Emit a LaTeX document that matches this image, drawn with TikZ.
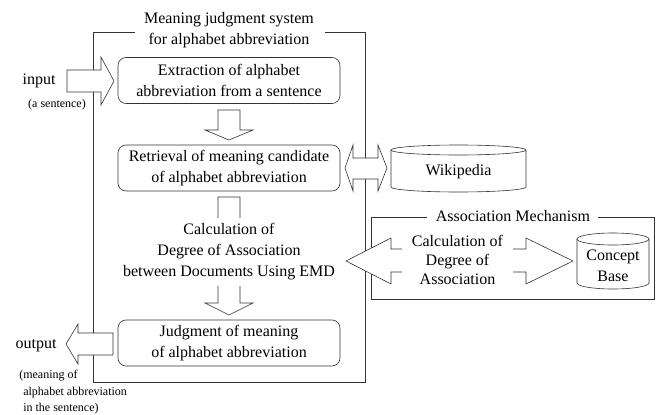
\documentclass[tikz,border=0pt]{standalone}
\usepackage{fontspec}
\setmainfont{Liberation Serif}
\begin{document}
\begin{tikzpicture}[x=1pt,y=-1pt,
  every node/.style={font=\fontsize{16}{21}\selectfont, align=center, text=black},
  every path/.style={line width=0.6pt},
  ln/.style={draw=black!80},
  proc/.style={draw=black!80, rounded corners=8pt, minimum width=222pt, minimum height=46pt, inner sep=0pt},
  blk/.style={draw=black!80, fill=white, line join=miter},
  small/.style={font=\fontsize{12}{16.5}\selectfont},
  cover/.style={fill=white, inner xsep=0pt}
]
\useasboundingbox (0,0) rectangle (659,415);
% main frame
\draw[ln] (135,32) -- (93,32) -- (93,382) -- (365,382) -- (365,32) -- (325,32);
\node (title) at (229,30.5) {Meaning judgment system\\for alphabet abbreviation};
% association frame
\draw[ln] (427,217) -- (371,217) -- (371,299) -- (654,299) -- (654,217) -- (598,217);
\node (atitle) at (513,216) {Association Mechanism};
% process boxes
\node[proc] (ext) at (229,80.5) {Extraction of alphabet\\abbreviation from a sentence};
\node[proc] (ret) at (229,168) {Retrieval of meaning candidate\\of alphabet abbreviation};
\node[proc] (jud) at (229,343) {Judgment of meaning\\of alphabet abbreviation};
% down arrows
\draw[blk] (218,110) -- (240,110) -- (240,130) -- (253,130) -- (229,140) -- (205,130) -- (218,130) -- cycle;
\draw[blk] (218,197) -- (240,197) -- (240,303) -- (253,303) -- (229,315) -- (205,303) -- (218,303) -- cycle;
\node[cover, minimum height=68pt] (emd) at (229,252) {Calculation of\\Degree of Association\\between Documents Using EMD};
% input / output arrows
\draw[blk] (67,70) -- (101,70) -- (101,57) -- (114,81) -- (101,105) -- (101,92) -- (67,92) -- cycle;
\node (in) at (39,81) {input};
\node[small] (ins) at (57,105) {(a sentence)};
\draw[blk] (113,333) -- (78,333) -- (78,324) -- (66,344) -- (78,364) -- (78,355) -- (113,355) -- cycle;
\node (out) at (36,346) {output};
\node[small, align=left, anchor=north west, inner sep=0pt] (outs) at (19,370) {(meaning of\\\hphantom{(}alphabet abbreviation\\\hphantom{(}in the sentence)};
% wikipedia
\draw[blk] (345,168) -- (353,145) -- (353,158) -- (378,158) -- (378,145) -- (387,168) -- (378,191) -- (378,179) -- (353,179) -- (353,191) -- cycle;
\draw[ln] (391,150) -- (391,187) arc[start angle=180, end angle=360, x radius=67.5pt, y radius=5pt] -- (526,150);
\draw[ln] (458.5,150) ellipse[x radius=67.5pt, y radius=5pt];
\node (wiki) at (458.5,172) {Wikipedia};
% association arrow
\draw[blk] (346,261) -- (391,238) -- (391,249) -- (526,249) -- (526,238) -- (573,261) -- (526,284) -- (526,272) -- (391,272) -- (391,284) -- cycle;
\node[cover, minimum width=111pt, font=\fontsize{16}{19}\selectfont] (calc) at (457.5,260) {Calculation of\\Degree of\\Association};
% concept base
\draw[ln] (577,239) -- (577,283) arc[start angle=180, end angle=360, x radius=36pt, y radius=6pt] -- (649,239);
\draw[ln] (613,239) ellipse[x radius=36pt, y radius=6pt];
\node (cb) at (613,266) {Concept\\Base};
\end{tikzpicture}
\end{document}
